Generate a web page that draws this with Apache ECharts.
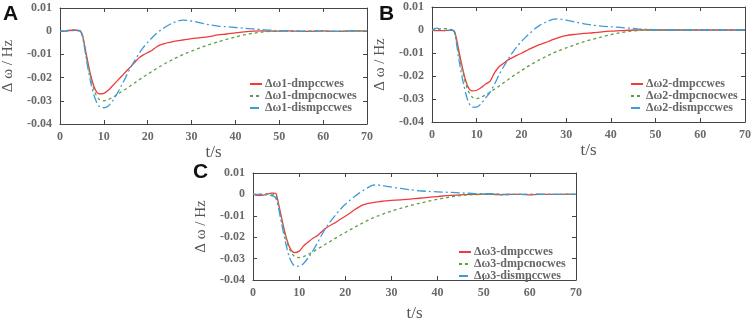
<!DOCTYPE html>
<html>
<head>
<meta charset="utf-8">
<script src="https://cdn.jsdelivr.net/npm/echarts@6/dist/echarts.min.js"></script>
<style>
html, body { margin: 0; padding: 0; background: #fff; }
#main { width: 754px; height: 323px; }
</style>
</head>
<body>
<div id="main"></div>
<script>
// 时间轴 (s)
var times = [0, 1, 2, 3, 4, 4.5, 5, 5.5, 6, 7, 8, 9, 10, 11, 12, 13, 14, 15, 16, 17, 18, 19, 20,
	21, 22, 23, 24, 25, 26, 27, 28, 29, 30, 32, 34, 36, 38, 40, 42, 44, 46, 48, 50,
	52, 54, 56, 58, 60, 62, 64, 66, 68, 70];

// A
var redA = [0, 0, 0.0003, 0.0004, 0.0004, 0.0003, -0.001, -0.005, -0.010, -0.019, -0.025, -0.027, -0.0268,
	-0.0255, -0.0235, -0.0215, -0.0195, -0.0175, -0.0155, -0.0135, -0.0115, -0.0102, -0.0092,
	-0.0082, -0.0068, -0.0058, -0.0052, -0.0048, -0.0044, -0.0041, -0.0038, -0.0035, -0.0032,
	-0.0028, -0.0023, -0.0016, -0.0012, -0.0007, -0.0003, 0, 0.0001, 0, 0,
	0.0001, 0, -0.0001, 0, 0.0001, 0, -0.0001, 0.0001, 0.0001, 0];
var greenA = [0, 0.0001, 0.0004, 0.0006, 0.0004, 0.0002, -0.001, -0.0055, -0.011, -0.020, -0.0265, -0.0295, -0.030,
	-0.0295, -0.0285, -0.0273, -0.0261, -0.0249, -0.0236, -0.0223, -0.021, -0.0197, -0.0185,
	-0.0173, -0.0161, -0.015, -0.0139, -0.0129, -0.0119, -0.011, -0.0101, -0.0093, -0.0086,
	-0.0071, -0.0058, -0.0046, -0.0035, -0.0025, -0.0016, -0.0009, -0.0004, -0.0001, 0,
	0, -0.0001, 0, 0.0001, 0, -0.0001, 0, 0, 0.0001, 0];
var blueA = [0, 0, 0.0003, 0.0003, 0.0002, 0.0001, -0.0015, -0.006, -0.012, -0.022, -0.029, -0.0325, -0.033,
	-0.0322, -0.030, -0.027, -0.0235, -0.0198, -0.016, -0.0128, -0.0097, -0.007, -0.0048,
	-0.0028, -0.001, 0.0005, 0.0018, 0.0029, 0.0038, 0.0045, 0.0048, 0.0047, 0.0044,
	0.0036, 0.0028, 0.0022, 0.0019, 0.0016, 0.0013, 0.001, 0.0007, 0.0004, 0.0002,
	0.0001, 0.0001, 0, 0, 0.0001, -0.0001, 0, 0.0001, 0, 0];

// B
var redB = [0, -0.0003, -0.0003, -0.0002, -0.0002, -0.0002, -0.0005, -0.004, -0.009, -0.018, -0.0245, -0.0265, -0.0262,
	-0.025, -0.0235, -0.0222, -0.0185, -0.016, -0.0145, -0.013, -0.012, -0.011, -0.0101,
	-0.0091, -0.0081, -0.0072, -0.0064, -0.0057, -0.005, -0.0042, -0.0035, -0.0029, -0.0024,
	-0.0019, -0.0015, -0.0012, -0.0008, -0.0005, -0.0003, -0.0001, 0, 0, 0,
	0, 0, 0, 0, 0, 0, 0, 0, 0, 0];
var greenB = [0, 0.0002, 0.0005, 0.0006, 0.0003, 0.0001, -0.0008, -0.005, -0.0105, -0.0195, -0.026, -0.0292, -0.0298,
	-0.0292, -0.0282, -0.027, -0.0257, -0.0244, -0.023, -0.0216, -0.0202, -0.0189, -0.0176,
	-0.0164, -0.0152, -0.0141, -0.013, -0.012, -0.011, -0.0101, -0.0093, -0.0085, -0.0078,
	-0.0064, -0.0051, -0.004, -0.003, -0.002, -0.0012, -0.0006, -0.0002, 0, 0,
	0, 0, 0, 0, 0, 0, 0, 0, 0, 0];
var blueB = [0, 0.0008, 0.0003, -0.0004, -0.0001, 0, -0.001, -0.006, -0.0125, -0.023, -0.0305, -0.0335, -0.0335,
	-0.032, -0.0295, -0.027, -0.0235, -0.0195, -0.016, -0.0128, -0.0098, -0.0072, -0.005,
	-0.003, -0.0012, 0.0005, 0.0019, 0.003, 0.0039, 0.0046, 0.0048, 0.0046, 0.0043,
	0.0035, 0.0027, 0.0021, 0.0017, 0.0014, 0.0011, 0.0008, 0.0005, 0.0003, 0.0001,
	0, 0, 0, 0, 0, 0, 0, 0, 0, 0];

// C
var redC = [0, -0.0004, -0.0004, 0.0001, 0.0006, 0.0006, 0.0003, -0.004, -0.009, -0.0185, -0.025, -0.0272, -0.0265,
	-0.024, -0.0222, -0.0205, -0.0192, -0.0172, -0.0155, -0.0142, -0.013, -0.0115, -0.0102,
	-0.0088, -0.0072, -0.0058, -0.0048, -0.0042, -0.0038, -0.0035, -0.0032, -0.003, -0.0028,
	-0.0026, -0.0022, -0.0018, -0.0014, -0.001, -0.0006, -0.0003, -0.0001, 0, 0.0001,
	0, -0.0001, 0, 0, -0.0002, 0, 0, 0, 0.0001, 0];
var greenC = [0, 0, 0.0001, 0.0002, 0.0001, 0, -0.001, -0.005, -0.010, -0.0195, -0.026, -0.029, -0.0295,
	-0.029, -0.028, -0.0268, -0.0255, -0.0242, -0.0229, -0.0216, -0.0203, -0.019, -0.0178,
	-0.0166, -0.0154, -0.0142, -0.0131, -0.012, -0.011, -0.0101, -0.0093, -0.0085, -0.0078,
	-0.0065, -0.0053, -0.0042, -0.0032, -0.0023, -0.0015, -0.0008, -0.0003, -0.0001, 0,
	0, -0.0002, 0, 0, 0, 0, 0, 0, 0, 0];
var blueC = [0, 0, 0, -0.0002, -0.0006, -0.0008, -0.002, -0.006, -0.0115, -0.022, -0.030, -0.0333, -0.0335,
	-0.0322, -0.0295, -0.0262, -0.0225, -0.0185, -0.015, -0.012, -0.0093, -0.0068, -0.0046,
	-0.0027, -0.001, 0.0006, 0.002, 0.0033, 0.0043, 0.0044, 0.0041, 0.0038, 0.0034,
	0.0028, 0.0022, 0.0017, 0.0014, 0.0012, 0.001, 0.0008, 0.0006, 0.0004, 0.0003,
	0.0003, 0.0001, 0, 0, 0, 0.0001, 0, 0, 0, 0];

var legendA = ['Δω1-dmpccwes', 'Δω1-dmpcnocwes', 'Δω1-dismpccwes'];
var legendB = ['Δω2-dmpccwes', 'Δω2-dmpcnocwes', 'Δω2-dismpccwes'];
var legendC = ['Δω3-dmpccwes', 'Δω3-dmpcnocwes', 'Δω3-dismpccwes'];

var colors = ['#ef3b3b', '#5f9f45', '#3d9bd6'];
var lineTypes = ['solid', [3, 3], [9, 3, 2, 3]];
var serif = 'Liberation Serif';
var axisColor = '#444';
var labelColor = '#6a6a6a';

var myChart = echarts.init(document.getElementById('main'));

var grids = [
	{ left: 54, top: 8, width: 313, height: 116 },
	{ left: 432, top: 7, width: 313, height: 115 },
	{ left: 253, top: 173, width: 323, height: 115 }
];

var xAxes = [], yAxes = [];
var xNameGaps = [19, 19, 25];
for (var g = 0; g < 3; g++) {
	xAxes.push({
		gridIndex: g, type: 'value', min: 0, max: 70, interval: 10,
		name: 't/s', nameLocation: 'middle', nameGap: xNameGaps[g],
		nameTextStyle: { fontFamily: serif, fontSize: 17, color: '#555' },
		axisLine: { onZero: false, lineStyle: { color: axisColor } },
		axisTick: { inside: true, length: 4, lineStyle: { color: axisColor } },
		axisLabel: { fontFamily: serif, fontWeight: 'bold', fontSize: 12, color: labelColor, margin: 7 },
		splitLine: { show: false }
	});
	xAxes.push({
		gridIndex: g, type: 'value', position: 'top', min: 0, max: 70, interval: 10,
		axisLine: { onZero: false, lineStyle: { color: axisColor } },
		axisTick: { inside: true, length: 4, lineStyle: { color: axisColor } },
		axisLabel: { show: false },
		splitLine: { show: false }
	});
	yAxes.push({
		gridIndex: g, type: 'value', min: -0.04, max: 0.01, interval: 0.01,
		name: 'Δ ω / Hz', nameLocation: 'middle', nameGap: 44, nameRotate: 90,
		nameTextStyle: { fontFamily: serif, fontSize: 15, color: '#555' },
		axisLine: { show: true, onZero: false, lineStyle: { color: axisColor } },
		axisTick: { show: true, inside: true, length: 4, lineStyle: { color: axisColor } },
		axisLabel: { fontFamily: serif, fontWeight: 'bold', fontSize: 12, color: labelColor, margin: 8 },
		splitLine: { show: false }
	});
	yAxes.push({
		gridIndex: g, type: 'value', position: 'right', min: -0.04, max: 0.01, interval: 0.01,
		axisLine: { show: true, onZero: false, lineStyle: { color: axisColor } },
		axisTick: { show: true, inside: true, length: 4, lineStyle: { color: axisColor } },
		axisLabel: { show: false },
		splitLine: { show: false }
	});
}

var panels = [
	{ names: legendA, data: [redA, greenA, blueA] },
	{ names: legendB, data: [redB, greenB, blueB] },
	{ names: legendC, data: [redC, greenC, blueC] }
];

var series = [];
panels.forEach(function(p, g) {
	p.data.forEach(function(vals, k) {
		series.push({
			name: p.names[k],
			type: 'line',
			xAxisIndex: g * 2,
			yAxisIndex: g * 2,
			showSymbol: false,
			symbol: 'none',
			smooth: 0.3,
			lineStyle: { color: colors[k], width: 1.3, type: lineTypes[k] },
			itemStyle: { color: colors[k] },
			data: times.map(function(t, i) { return [t, vals[i]]; })
		});
	});
});

function legendAt(names, left, top) {
	return {
		data: names, left: left, top: top, orient: 'vertical',
		itemWidth: 12, itemHeight: 8, itemGap: 0,
		itemStyle: { opacity: 0 },
		textStyle: { fontFamily: serif, fontWeight: 'bold', fontSize: 12, color: '#666', padding: [0, 0, 0, -2] }
	};
}

var option = {
	animation: false,
	grid: grids,
	xAxis: xAxes,
	yAxis: yAxes,
	legend: [
		legendAt(legendA, 244, 73),
		legendAt(legendB, 625, 73),
		legendAt(legendC, 453, 241)
	],
	graphic: [
		{ type: 'text', left: 3, top: 4, style: { text: 'A', font: 'bold 21px "Liberation Sans"', fill: '#111' } },
		{ type: 'text', left: 379, top: 4, style: { text: 'B', font: 'bold 21px "Liberation Sans"', fill: '#111' } },
		{ type: 'text', left: 193, top: 162, style: { text: 'C', font: 'bold 21px "Liberation Sans"', fill: '#111' } }
	],
	series: series
};

myChart.setOption(option);
</script>
</body>
</html>
